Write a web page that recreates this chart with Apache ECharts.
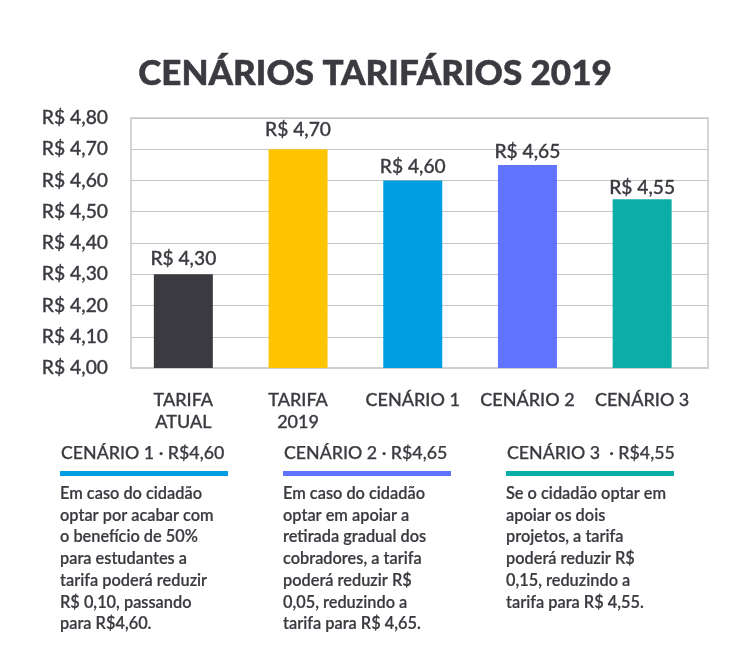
<!DOCTYPE html>
<html><head><meta charset="utf-8">
<style>html,body{margin:0;padding:0;background:#fff}#c{width:750px;height:666px}</style>
<script src="https://cdn.jsdelivr.net/npm/echarts@6/dist/echarts.min.js"></script>
</head><body><div id="c"></div>
<script>
const categories = ['TARIFA\nATUAL','TARIFA\n2019','CENÁRIO 1','CENÁRIO 2','CENÁRIO 3'];
const barValues = [4.30,4.70,4.60,4.65,4.54];
const barLabels = ['R$ 4,30','R$ 4,70','R$ 4,60','R$ 4,65','R$ 4,55'];
const barColors = ['#3b3a40','#ffc400','#009fe3','#6074ff','#0aaea6'];
const noteHeads = ['CENÁRIO 1 · R$4,60','CENÁRIO 2 · R$4,65','CENÁRIO 3  · R$4,55'];
const noteColors = ['#009fe3','#6074ff','#0aaea6'];
const noteBodies = [
 ['Em caso do cidadão','optar por acabar com','o benefício de 50%','para estudantes a','tarifa poderá reduzir','R$ 0,10, passando','para R$4,60.'],
 ['Em caso do cidadão','optar em apoiar a','retirada gradual dos','cobradores, a tarifa','poderá reduzir R$','0,05, reduzindo a','tarifa para R$ 4,65.'],
 ['Se o cidadão optar em','apoiar os dois','projetos, a tarifa','poderá reduzir R$','0,15, reduzindo a','tarifa para R$ 4,55.']
];
const ink = '#3b3a40';
const noteX = [60,283,506];
const labelGaps = [6,10,4,4,2];
const med = {textBorderColor:ink,textBorderWidth:0.3};
const graphics = [{type:'text',left:'center',top:56,style:{text:'CENÁRIOS TARIFÁRIOS 2019',font:'900 35px Lato',fill:ink,stroke:ink,lineWidth:0.5}}];
noteHeads.forEach((h,i)=>{
  graphics.push({type:'text',x:noteX[i]+1,y:444,style:{text:h,font:'500 17.8px Lato',fill:ink,stroke:ink,lineWidth:0.25}});
  graphics.push({type:'rect',shape:{x:noteX[i],y:471,width:168,height:5},style:{fill:noteColors[i]}});
  noteBodies[i].forEach((l,j)=>graphics.push({type:'text',x:noteX[i],y:485+j*21.7,scaleX:0.95,style:{text:l,font:'600 17.2px Lato',fill:ink,stroke:ink,lineWidth:0.2}}));
});
const chart = echarts.init(document.getElementById('c'));
chart.setOption({
  animation:false,
  graphic:graphics,
  grid:[
    {left:131,width:577,top:118,height:250,show:true,borderColor:'#c8c8c8',borderWidth:1.5,backgroundColor:'transparent'},
    {left:126,width:573.5,top:118,height:250}
  ],
  xAxis:[
    {gridIndex:0,type:'category',data:categories,axisLine:{show:true,lineStyle:{color:'#cfcfcf',width:2}},axisTick:{show:false},axisLabel:{show:false}},
    {gridIndex:1,type:'category',data:categories,axisLine:{show:false},axisTick:{show:false},
      axisLabel:{interval:0,margin:21,color:ink,fontFamily:'Lato',fontSize:18,fontWeight:500,lineHeight:22,...med}}
  ],
  yAxis:[
    {gridIndex:0,type:'value',min:4.0,max:4.8,interval:0.1,axisLine:{show:false},axisTick:{show:false},
      splitLine:{lineStyle:{color:'#c6c6c6',width:1.2}},
      axisLabel:{margin:23,color:ink,fontFamily:'Lato',fontSize:19.3,fontWeight:500,padding:[2,0,0,0],...med,formatter:v=>'R$ '+v.toFixed(2).replace('.',',')}},
    {gridIndex:1,type:'value',min:4.0,max:4.8,interval:0.1,show:false,splitLine:{show:false}}
  ],
  series:[{type:'bar',xAxisIndex:1,yAxisIndex:1,barWidth:59,
    data:barValues.map((v,i)=>({value:v,itemStyle:{color:barColors[i]},label:{formatter:barLabels[i],distance:labelGaps[i]}})),
    label:{show:true,position:'top',color:ink,fontFamily:'Lato',fontSize:19.2,fontWeight:500,...med}}]
});
</script></body></html>
